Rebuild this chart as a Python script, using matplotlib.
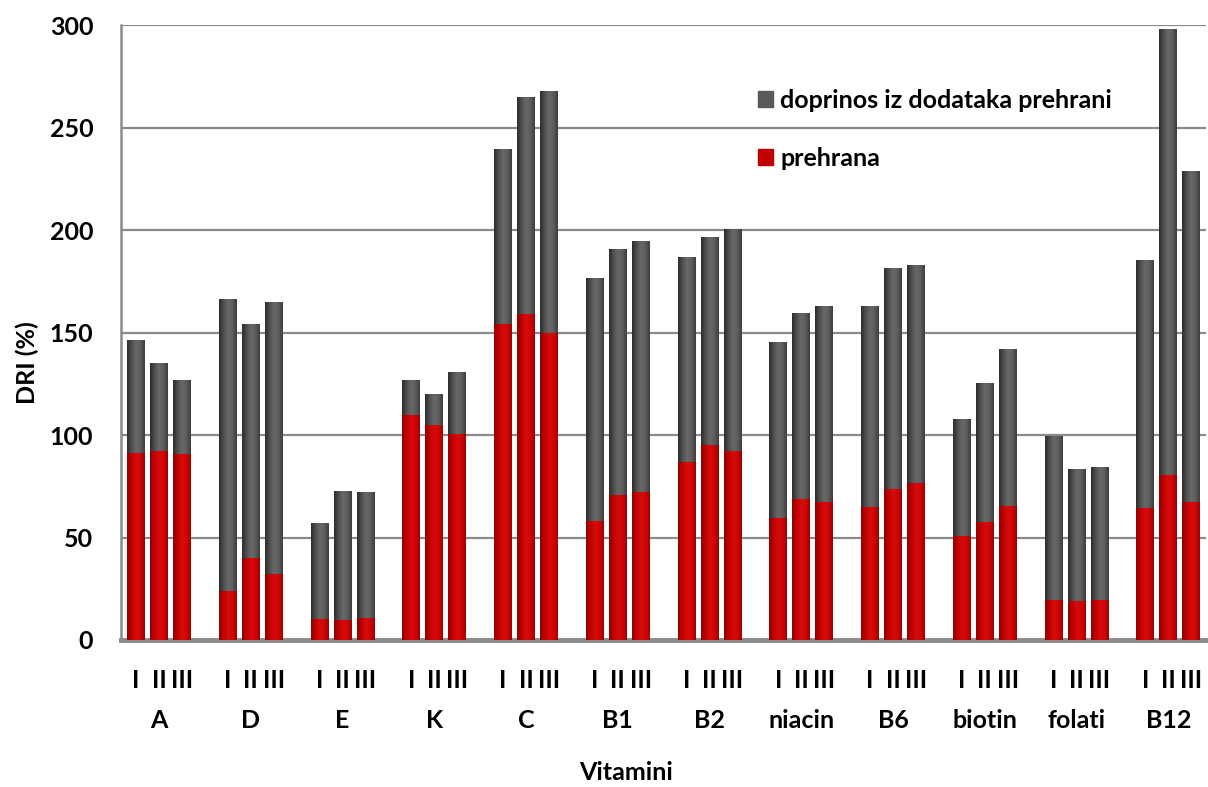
import numpy as np
import matplotlib
matplotlib.use("Agg")
import matplotlib.pyplot as plt
from matplotlib.colors import LinearSegmentedColormap
from matplotlib.patches import Patch
from matplotlib.transforms import blended_transform_factory

plt.rcParams['font.family'] = ['Lato', 'DejaVu Sans']
plt.rcParams['font.weight'] = 'bold'

vitamini = ['A', 'D', 'E', 'K', 'C', 'B1', 'B2', 'niacin', 'B6', 'biotin', 'folati', 'B12']
skupine = ['I', 'II', 'III']
prehrana = [[91.3, 92.2, 90.9], [23.9, 39.9, 32.2], [10.2, 9.6, 10.9], [109.7, 104.8, 100.5],
            [154.2, 159.1, 149.8], [58.2, 70.6, 72.2], [86.9, 95.2, 92.2], [59.5, 68.8, 67.3],
            [64.9, 73.7, 76.6], [50.8, 57.7, 65.5], [19.5, 19.0, 19.7], [64.6, 80.7, 67.5]]
ukupno = [[146.3, 135.2, 126.9], [166.4, 154.2, 165.0], [57.1, 72.6, 72.4], [126.9, 119.9, 130.8],
          [239.5, 264.9, 267.8], [176.7, 190.8, 194.7], [186.8, 196.5, 200.4], [145.4, 159.7, 163.0],
          [163.0, 181.5, 182.9], [107.9, 125.4, 142.0], [99.6, 83.5, 84.4], [185.5, 298.0, 229.0]]
yticks = [0, 50, 100, 150, 200, 250, 300]

preh = np.array(prehrana)
dod = np.array(ukupno) - preh
n_g, n_s = preh.shape
xpos = np.array([[4 * g + i for i in range(n_s)] for g in range(n_g)], dtype=float)

FS = 18
fig = plt.figure(figsize=(12.08, 7.87), dpi=100)
ax = fig.add_axes([0.1002, 0.1868, 0.8982, 0.7811])

W = 0.77
red_c = '#C00000'
gray_c = '#595959'
b1 = ax.bar(xpos.ravel(), preh.ravel(), width=W, color=red_c, zorder=2, linewidth=0)
b2 = ax.bar(xpos.ravel(), dod.ravel(), bottom=preh.ravel(), width=W, color=gray_c, zorder=2, linewidth=0)

cm_red = LinearSegmentedColormap.from_list('r', ['#8e0000', '#c00000', '#d60a0a', '#d00606', '#a00000'])
cm_gray = LinearSegmentedColormap.from_list('g', ['#2c2c2c', '#4e4e4e', '#686868', '#5e5e5e', '#3e3e3e'])
grad = np.linspace(0, 1, 64).reshape(1, -1)
for bars, cm in ((b1, cm_red), (b2, cm_gray)):
    for p in bars:
        x0, y0 = p.get_x(), p.get_y()
        w, h = p.get_width(), p.get_height()
        im = ax.imshow(grad, cmap=cm, extent=(x0, x0 + w, y0, y0 + h), aspect='auto',
                       interpolation='bilinear', zorder=3, origin='lower')
        im.set_clip_path(p)

ax.set_xlim(-0.65, 46.65)
ax.set_ylim(0, 300)
ax.set_yticks(yticks)
ax.set_yticklabels([str(t) for t in yticks], fontsize=FS, fontweight='bold')
ax.tick_params(axis='y', length=0, pad=20)
ax.set_xticks(xpos.ravel())
ax.set_xticklabels(skupine * n_g, fontsize=FS, fontweight='bold')
ax.tick_params(axis='x', length=0, pad=21)

ax.grid(axis='y', color='#8a8a8a', linewidth=1.6, zorder=0)
ax.set_axisbelow(True)
for s in ['top', 'right']:
    ax.spines[s].set_visible(False)
ax.spines['left'].set_color('#8a8a8a')
ax.spines['left'].set_linewidth(1.8)
ax.spines['bottom'].set_color('#8a8a8a')
ax.spines['bottom'].set_linewidth(3.5)

tr = blended_transform_factory(ax.transData, ax.transAxes)
for g, name in enumerate(vitamini):
    ax.text(xpos[g, 1], -0.131, name, transform=tr, ha='center', va='center',
            fontsize=FS, fontweight='bold')

fig.text(626 / 1208, 1 - 773 / 787, 'Vitamini', ha='center', va='center', fontsize=FS, fontweight='bold')
fig.text(27 / 1208, 1 - 363 / 787, 'DRI (%)', ha='center', va='center', rotation=90,
         fontsize=FS, fontweight='bold')

handles = [Patch(color=gray_c), Patch(color=red_c)]
leg = ax.legend(handles, ['doprinos iz dodataka prehrani', 'prehrana'], frameon=False,
                loc='upper left', bbox_to_anchor=(758 / 1208, 1 - 89 / 787),
                bbox_transform=fig.transFigure, borderpad=0, borderaxespad=0,
                handlelength=0.6, handleheight=0.6, handletextpad=0.3, labelspacing=1.4,
                prop={'size': FS, 'weight': 'bold'})

fig.savefig('out.png', dpi=100)
